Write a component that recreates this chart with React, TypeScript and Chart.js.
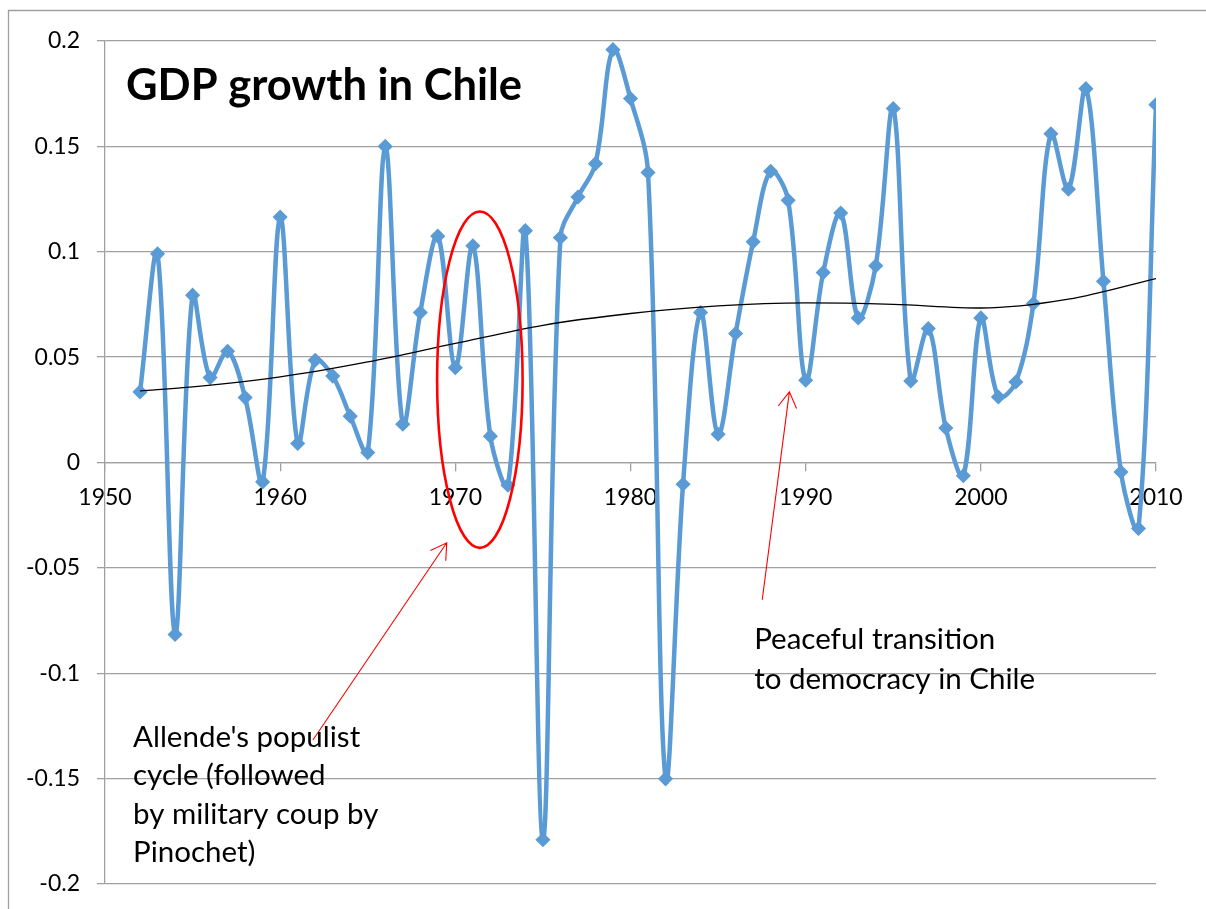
import { useEffect, useRef } from "react";
import { Chart, registerables } from "chart.js";

Chart.register(...registerables);

// Annual real GDP growth, Chile
const years = [
  1952, 1953, 1954, 1955, 1956, 1957, 1958, 1959, 1960, 1961,
  1962, 1963, 1964, 1965, 1966, 1967, 1968, 1969, 1970, 1971,
  1972, 1973, 1974, 1975, 1976, 1977, 1978, 1979, 1980, 1981,
  1982, 1983, 1984, 1985, 1986, 1987, 1988, 1989, 1990, 1991,
  1992, 1993, 1994, 1995, 1996, 1997, 1998, 1999, 2000, 2001,
  2002, 2003, 2004, 2005, 2006, 2007, 2008, 2009, 2010,
];
const gdpGrowth = [
  0.0335, 0.099, -0.0816, 0.0794, 0.0403, 0.0528, 0.0308, -0.0092, 0.1165, 0.009,
  0.0485, 0.041, 0.022, 0.0047, 0.15, 0.0182, 0.0712, 0.1074, 0.045, 0.1028,
  0.0125, -0.0108, 0.11, -0.179, 0.1067, 0.126, 0.1418, 0.1959, 0.1727, 0.1376,
  -0.1501, -0.0103, 0.0712, 0.0134, 0.0612, 0.1047, 0.1382, 0.1244, 0.039, 0.0901,
  0.1184, 0.0686, 0.0933, 0.168, 0.0387, 0.0636, 0.0164, -0.0063, 0.0686, 0.0311,
  0.0382, 0.0754, 0.156, 0.1297, 0.1774, 0.086, -0.0045, -0.0313, 0.1698,
];

// Long-run trend line
const trendYears = [1952, 1955, 1960, 1965, 1970, 1975, 1980, 1985, 1990, 1995, 2000, 2005, 2010];
const trendValues = [0.034, 0.0359, 0.0406, 0.0477, 0.0565, 0.0651, 0.0707, 0.0743, 0.0757, 0.075, 0.0733, 0.0775, 0.0873];

// Axis ticks
const xTicks = [1950, 1960, 1970, 1980, 1990, 2000, 2010];
const yTicks = [-0.2, -0.15, -0.1, -0.05, 0, 0.05, 0.1, 0.15, 0.2];

const titleText = "GDP growth in Chile";
const allendeNote = ["Allende's populist", "cycle (followed", "by military coup by", "Pinochet)"];
const transitionNote = ["Peaceful transition", "to democracy in Chile"];

const BLUE = "#5b9bd5";
const GRID = "#a0a0a0";
const RED = "#ff0000";
const FONT = "Lato, 'Open Sans', sans-serif";

function drawArrow(
  ctx: CanvasRenderingContext2D,
  x0: number, y0: number, x1: number, y1: number,
  headLen: number, headAngle: number
) {
  ctx.beginPath();
  ctx.moveTo(x0, y0);
  ctx.lineTo(x1, y1);
  const back = Math.atan2(y0 - y1, x0 - x1);
  ctx.moveTo(x1 + headLen * Math.cos(back - headAngle), y1 + headLen * Math.sin(back - headAngle));
  ctx.lineTo(x1, y1);
  ctx.lineTo(x1 + headLen * Math.cos(back + headAngle), y1 + headLen * Math.sin(back + headAngle));
  ctx.stroke();
}

const annotations = {
  id: "annotations",
  beforeDraw(chart: any) {
    const { ctx, width, height } = chart;
    ctx.save();
    ctx.strokeStyle = GRID;
    ctx.lineWidth = 1.3;
    ctx.beginPath();
    ctx.moveTo(8.5, height);
    ctx.lineTo(8.5, 10.5);
    ctx.lineTo(width, 10.5);
    ctx.stroke();
    ctx.restore();
  },
  afterDatasetsDraw(chart: any) {
    const { ctx } = chart;
    const xs = chart.scales.x;
    const ys = chart.scales.y;
    const px = (v: number) => xs.getPixelForValue(v);
    const py = (v: number) => ys.getPixelForValue(v);

    ctx.save();

    // title
    ctx.fillStyle = "#000";
    ctx.textBaseline = "alphabetic";
    ctx.textAlign = "left";
    ctx.font = `bold 43.5px ${FONT}`;
    ctx.fillText(titleText, 126, 100);

    // ring around the Allende years
    ctx.strokeStyle = RED;
    ctx.lineWidth = 2.6;
    const cx = px(1971.4), cy = py(0.0393);
    ctx.beginPath();
    ctx.ellipse(cx, cy, px(1971.4 + 2.44) - cx, py(0.0393 - 0.0798) - cy, 0, 0, Math.PI * 2);
    ctx.stroke();

    // arrows
    ctx.lineWidth = 1.1;
    drawArrow(ctx, px(1961.87), py(-0.1317), px(1969.51), py(-0.0381), 18, 0.54);
    drawArrow(ctx, px(1987.52), py(-0.0651), px(1989.07), py(0.0335), 18, 0.54);

    // notes
    ctx.fillStyle = "#000";
    ctx.font = `29.5px ${FONT}`;
    allendeNote.forEach((line, i) => ctx.fillText(line, px(1951.6), py(-0.1349) + i * 38.5));
    transitionNote.forEach((line, i) => ctx.fillText(line, px(1987.06), py(-0.0887) + i * 40));

    ctx.restore();
  },
};

export default function App() {
  const canvasRef = useRef<HTMLCanvasElement | null>(null);

  useEffect(() => {
    const canvas = canvasRef.current;
    if (!canvas) return;

    const chart = new Chart(canvas, {
      type: "line",
      data: {
        datasets: [
          {
            label: "Trend",
            data: trendYears.map((x, i) => ({ x, y: trendValues[i] })),
            borderColor: "#000000",
            borderWidth: 1.3,
            pointRadius: 0,
            cubicInterpolationMode: "monotone",
            fill: false,
            order: 0,
          },
          {
            label: "GDP growth",
            data: years.map((x, i) => ({ x, y: gdpGrowth[i] })),
            borderColor: BLUE,
            backgroundColor: BLUE,
            borderWidth: 4.5,
            tension: 0.35,
            pointStyle: "rectRot",
            pointRadius: 6.5,
            pointBorderWidth: 1.5,
            pointBackgroundColor: BLUE,
            pointBorderColor: BLUE,
            fill: false,
            order: 1,
          },
        ],
      },
      options: {
        responsive: false,
        animation: false,
        events: [],
        layout: { padding: { left: 0, top: 41, right: 50, bottom: 25 } },
        plugins: {
          legend: { display: false },
          tooltip: { enabled: false },
          title: { display: false },
        },
        scales: {
          x: {
            type: "linear",
            position: { y: 0 },
            min: 1950,
            max: 2010,
            afterBuildTicks: (scale: any) => {
              scale.ticks = xTicks.map((value) => ({ value }));
            },
            afterFit: (scale: any) => {
              scale.height = 0;
            },
            grid: {
              display: true,
              drawOnChartArea: false,
              drawTicks: true,
              tickLength: 8,
              color: GRID,
              lineWidth: 1.3,
            },
            border: { display: true, color: GRID, width: 1.3 },
            ticks: {
              padding: 13,
              maxRotation: 0,
              autoSkip: false,
              color: "#000",
              font: { family: FONT, size: 23 },
              callback: (v: any) => String(v),
            },
          },
          y: {
            type: "linear",
            min: -0.2,
            max: 0.2,
            afterBuildTicks: (scale: any) => {
              scale.ticks = yTicks.map((value) => ({ value }));
            },
            afterFit: (scale: any) => {
              scale.width = 105;
              scale.paddingTop = 0;
              scale.paddingBottom = 0;
            },
            grid: {
              color: GRID,
              lineWidth: 1.3,
              drawTicks: true,
              tickLength: 8,
            },
            border: { display: true, color: GRID, width: 1.3 },
            ticks: {
              padding: 17,
              autoSkip: false,
              color: "#000",
              font: { family: FONT, size: 23 },
              callback: (v: any) => String(parseFloat(Number(v).toFixed(2))),
            },
          },
        },
      },
      plugins: [annotations],
    } as any);

    return () => chart.destroy();
  }, []);

  return (
    <div style={{ position: "fixed", left: 0, top: 0, width: 1206, height: 909, background: "#fff" }}>
      <canvas ref={canvasRef} width={1206} height={909} />
    </div>
  );
}
